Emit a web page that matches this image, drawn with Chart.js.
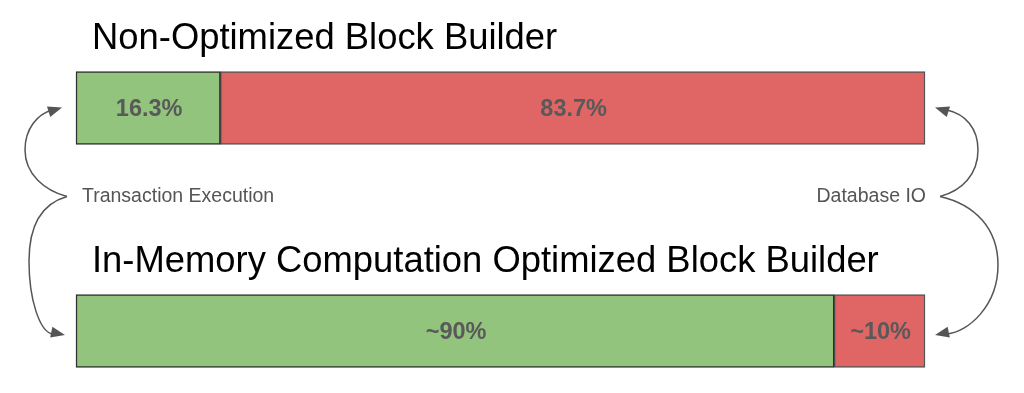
<!DOCTYPE html>
<html>
<head>
<meta charset="utf-8">
<script src="https://cdn.jsdelivr.net/npm/chart.js@4"></script>
<style>
html,body{margin:0;padding:0;background:#fff;}
#wrap{width:1024px;height:393px;position:relative;}
</style>
</head>
<body>
<div id="wrap"><canvas id="c" width="1024" height="393"></canvas></div>
<script>
const categories = ['Non-Optimized Block Builder', 'In-Memory Computation Optimized Block Builder'];
const seriesNames = ['Transaction Execution', 'Database IO'];
// segment widths as drawn in the picture (percent of bar length)
const transactionExecution = [17.0, 89.3];
const databaseIO = [83.0, 10.7];
const executionLabels = ['16.3%', '~90%'];
const ioLabels = ['83.7%', '~10%'];

const FONT = '"Liberation Sans", Arial, Helvetica, sans-serif';

const overlay = {
  id: 'overlay',
  afterDatasetsDraw(chart) {
    const ctx = chart.ctx;
    const m0 = chart.getDatasetMeta(0), m1 = chart.getDatasetMeta(1);
    ctx.save();
    // bar value labels
    ctx.fillStyle = '#595959';
    ctx.font = 'bold 23.5px ' + FONT;
    ctx.textAlign = 'center';
    ctx.textBaseline = 'middle';
    const labelSets = [executionLabels, ioLabels];
    [m0, m1].forEach((meta, d) => {
      meta.data.forEach((el, i) => {
        const cx = (el.x + el.base) / 2;
        ctx.fillText(labelSets[d][i], cx + 1, el.y + 1.5);
      });
    });
    // titles
    ctx.fillStyle = '#000';
    ctx.font = '36.4px ' + FONT;
    ctx.textAlign = 'left';
    ctx.textBaseline = 'alphabetic';
    m0.data.forEach((el, i) => {
      const top = el.y - el.height / 2;
      ctx.fillText(categories[i], 92, top - 23);
    });
    // side labels
    const y0 = m0.data[0].y, y1 = m0.data[1].y;
    const midY = y0 + 88.5;
    ctx.fillStyle = '#555';
    ctx.font = '19.5px ' + FONT;
    ctx.textBaseline = 'middle';
    ctx.textAlign = 'left';
    ctx.fillText(seriesNames[0], 82, midY);
    ctx.textAlign = 'right';
    ctx.fillText(seriesNames[1], 926, midY);

    // arrows
    ctx.strokeStyle = '#555';
    ctx.fillStyle = '#555';
    ctx.lineWidth = 1.5;
    function head(x, y, ang) {
      const L = 14, W = 5.5;
      ctx.beginPath();
      ctx.moveTo(x, y);
      ctx.lineTo(x - L * Math.cos(ang) + W * Math.sin(ang), y - L * Math.sin(ang) - W * Math.cos(ang));
      ctx.lineTo(x - L * Math.cos(ang) - W * Math.sin(ang), y - L * Math.sin(ang) + W * Math.cos(ang));
      ctx.closePath();
      ctx.fill();
    }
    const left = m0.data[0].base; // x of bar start
    const right = m1.data[0].x;   // x of bar end
    const lbx = left - 9, lby = midY;
    const ay1 = y1 + 4;
    // left upper
    ctx.beginPath();
    ctx.moveTo(lbx, lby);
    ctx.bezierCurveTo(lbx - 22, lby - 6, 25, lby - 22, 25, y0 + 42);
    ctx.bezierCurveTo(25, y0 + 20, 38, y0 + 6, left - 24, y0 + 2);
    ctx.stroke();
    head(left - 14, y0 - 0.5, -0.3);
    // left lower
    ctx.beginPath();
    ctx.moveTo(lbx, lby);
    ctx.bezierCurveTo(lbx - 28, lby + 8, 29, lby + 32, 29, y1 - 70);
    ctx.bezierCurveTo(29, y1 - 30, 40, ay1 - 4, left - 24, ay1 - 1);
    ctx.stroke();
    head(left - 11, ay1, 0.2);
    // right upper
    const rbx = right + 15, rby = midY;
    ctx.beginPath();
    ctx.moveTo(rbx, rby);
    ctx.bezierCurveTo(rbx + 22, rby - 6, 978, rby - 22, 978, y0 + 42);
    ctx.bezierCurveTo(978, y0 + 20, 965, y0 + 6, right + 22, y0 + 2);
    ctx.stroke();
    head(right + 10, y0 - 0.5, Math.PI + 0.3);
    // right lower
    ctx.beginPath();
    ctx.moveTo(rbx, rby);
    ctx.bezierCurveTo(rbx + 35, rby + 8, 998, rby + 32, 998, y1 - 66);
    ctx.bezierCurveTo(998, y1 - 25, 968, ay1 - 3, right + 22, ay1 - 1);
    ctx.stroke();
    head(right + 10, ay1, Math.PI - 0.2);
    ctx.restore();
  }
};

new Chart(document.getElementById('c'), {
  type: 'bar',
  data: {
    labels: categories,
    datasets: [
      {
        label: seriesNames[0],
        data: transactionExecution,
        backgroundColor: '#93c47d',
        borderColor: '#2f2f2f',
        borderWidth: 1.5,
        borderSkipped: false,
        barThickness: 73,
        clip: false
      },
      {
        label: seriesNames[1],
        data: databaseIO,
        backgroundColor: '#e06666',
        borderColor: '#555555',
        borderWidth: 1.5,
        borderSkipped: false,
        barThickness: 73,
        clip: false
      }
    ]
  },
  options: {
    indexAxis: 'y',
    responsive: false,
    animation: false,
    layout: { padding: { left: 76, right: 99, top: 108, bottom: 62 } },
    plugins: { legend: { display: false }, tooltip: { enabled: false } },
    scales: {
      x: { stacked: true, min: 0, max: 100, display: false },
      y: { stacked: true, display: false, offset: false }
    }
  },
  plugins: [overlay]
});
</script>
</body>
</html>
